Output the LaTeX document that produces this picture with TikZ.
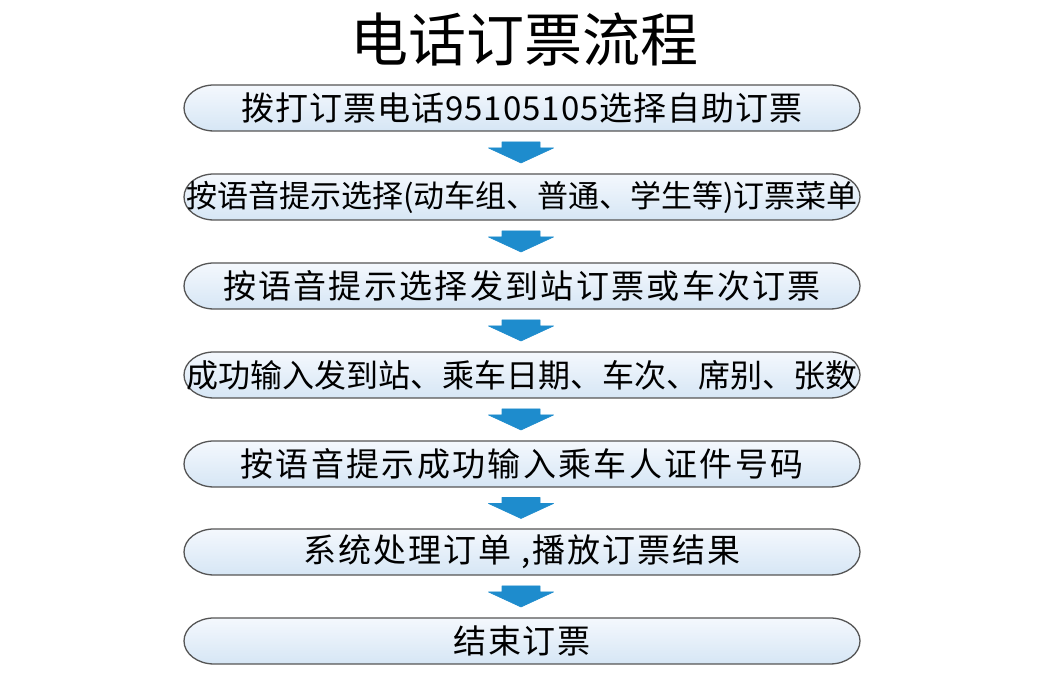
\documentclass[tikz,border=0pt]{standalone}
\usepackage{fontspec}
\newfontfamily\cjk{Noto Sans CJK SC}
\usetikzlibrary{backgrounds,calc}
\definecolor{arrowblue}{RGB}{30,140,205}
\definecolor{boxtop}{RGB}{244,248,253}
\definecolor{boxbot}{RGB}{214,230,245}
\definecolor{boxline}{RGB}{85,85,85}
\begin{document}
\begin{tikzpicture}[x=1pt,y=1pt,
  stepbox/.style={inner sep=0pt,font=\cjk\fontsize{33}{33}\selectfont},
  flowarrow/.style={fill=arrowblue, draw=arrowblue, line width=0.6pt, line join=round},
  boxshape/.style={draw=boxline,line width=1.3pt,top color=boxtop,bottom color=boxbot}]
\useasboundingbox (0,0) rectangle (1050,700);
\node[font=\cjk\fontsize{58}{58}\selectfont] (title) at (524,660) {电话订票流程};
\node[stepbox] (b1) at (522,592) {\addfontfeatures{LetterSpace=3}拨打订票电话95105105选择自助订票};
\node[stepbox,font=\cjk\fontsize{31}{31}\selectfont] (b2) at (522,503) {按语音提示选择(动车组、普通、学生等)订票菜单};
\node[stepbox] (b3) at (522,414) {\addfontfeatures{LetterSpace=7}按语音提示选择发到站订票或车次订票};
\node[stepbox,font=\cjk\fontsize{32}{32}\selectfont] (b4) at (522,325) {成功输入发到站、乘车日期、车次、席别、张数};
\node[stepbox] (b5) at (522,236) {\addfontfeatures{LetterSpace=7}按语音提示成功输入乘车人证件号码};
\node[stepbox] (b6) at (522,148) {\addfontfeatures{LetterSpace=6}系统处理订单 ,播放订票结果};
\node[stepbox] (b7) at (522,59) {\addfontfeatures{LetterSpace=5}结束订票};
\foreach \u/\v [count=\i] in {b1/b2,b2/b3,b3/b4,b4/b5,b5/b6,b6/b7}{
  \coordinate (a\i) at ($(\u.center)!0.5!(\v.center)+(-1pt,0)$);
  \fill[flowarrow] ([shift={(-19pt,10.5pt)}]a\i) -- ([shift={(19pt,10.5pt)}]a\i)
    -- ([shift={(19pt,4.5pt)}]a\i) -- ([shift={(32.5pt,4.5pt)}]a\i)
    -- ([shift={(0pt,-10.5pt)}]a\i) -- ([shift={(-32.5pt,4.5pt)}]a\i)
    -- ([shift={(-19pt,4.5pt)}]a\i) -- cycle;
}
\begin{scope}[on background layer]
  \fill[white] (0,0) rectangle (1050,700);
  \foreach \n in {b1,b2,b3,b4,b5,b6,b7}{
    \draw[boxshape] ([shift={(-308pt,23pt)}]\n.center) -- ([shift={(308pt,23pt)}]\n.center)
      arc[start angle=90,end angle=-90,x radius=30pt,y radius=23pt]
      -- ([shift={(-308pt,-23pt)}]\n.center)
      arc[start angle=270,end angle=90,x radius=30pt,y radius=23pt] -- cycle;
  }
\end{scope}
\end{tikzpicture}
\end{document}
